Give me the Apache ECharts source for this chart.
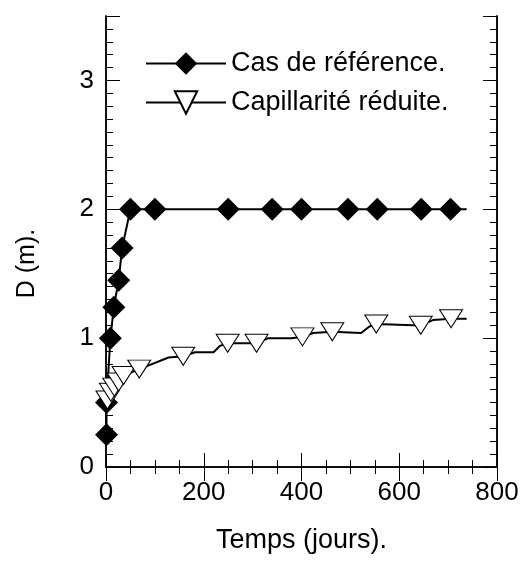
<!DOCTYPE html>
<html>
<head>
<meta charset="utf-8">
<script src="https://cdn.jsdelivr.net/npm/echarts@6/dist/echarts.min.js"></script>
<style>
html,body{margin:0;padding:0;background:#fff;}
#c{width:523px;height:562px;}
</style>
</head>
<body>
<div id="c"></div>
<script>
// ---- data ----
const seriesNames = ['Cas de référence.', 'Capillarité réduite.'];
const xTicks = [0, 200, 400, 600, 800];
const yTicks = [0, 1, 2, 3];

const refMarkT = [1, 1, 9, 16, 26, 33, 50, 100, 250, 340, 400, 495, 555, 645, 705];
const refMarkD = [0.25, 0.5, 1.0, 1.24, 1.45, 1.7, 2.0, 2.0, 2.0, 2.0, 2.0, 2.0, 2.0, 2.0, 2.0];
const refLineT = [738];
const refLineD = [2.0];

const capMarkT = [3, 10, 17, 26, 36, 68, 158, 249, 308, 402, 463, 553, 644, 706];
const capMarkD = [0.52, 0.58, 0.62, 0.66, 0.71, 0.76, 0.86, 0.96, 0.96, 1.01, 1.05, 1.11, 1.10, 1.15];
const capLineT = [128, 182, 220, 233, 332, 380, 424, 522, 539, 628, 669, 738];
const capLineD = [0.85, 0.89, 0.89, 0.94, 1.00, 1.00, 1.04, 1.04, 1.09, 1.10, 1.14, 1.15];

function build(markT, markD, lineT, lineD) {
  const pts = [];
  markT.forEach((t, i) => pts.push({ value: [t, markD[i]] , _o: i}));
  lineT.forEach((t, i) => pts.push({ value: [t, lineD[i]], symbol: 'none', _o: 1000 + i }));
  pts.sort((a, b) => a.value[0] - b.value[0] || a._o - b._o);
  return pts.map(p => { const o = { value: p.value }; if (p.symbol) o.symbol = p.symbol; return o; });
}

const FONT = 'Liberation Sans, Arial, Helvetica, sans-serif';
const FS_TICK = 26;
const FS_TEXT = 27;
const FS_YNAME = 25;
const chart = echarts.init(document.getElementById('c'), null, { renderer: 'canvas' });

const grid = { left: 106, right: 26, top: 16, bottom: 95, containLabel: false };
const axLine = { show: true, lineStyle: { color: '#000', width: 1.5 } };

function yAx(pos, interval, len, labels) {
  return {
    type: 'value', position: pos, min: 0, max: 3.5, interval: interval,
    axisLine: axLine,
    axisTick: { show: true, inside: true, length: len, lineStyle: { color: '#000', width: 1 } },
    axisLabel: labels ? {
      show: true, color: '#000', fontSize: FS_TICK, fontFamily: FONT, margin: 12,
      formatter: v => (yTicks.indexOf(Math.round(v * 1000) / 1000) >= 0 ? String(Math.round(v)) : '')
    } : { show: false },
    splitLine: { show: false },
    name: labels ? 'D (m).' : '',
    nameLocation: 'middle', nameGap: 66, nameRotate: 90,
    nameTextStyle: { color: '#000', fontSize: FS_YNAME, fontFamily: FONT, padding: [0, 44, 0, 0] }
  };
}
function xAx(pos, labels) {
  return {
    type: 'value', position: pos, min: xTicks[0], max: xTicks[xTicks.length - 1], interval: 200,
    axisLine: axLine,
    axisTick: { show: true, inside: true, length: 14, lineStyle: { color: '#000', width: 1 } },
    minorTick: { show: true, splitNumber: 4, length: 7, lineStyle: { color: '#000', width: 1 } },
    axisLabel: labels ? { show: true, color: '#000', fontSize: FS_TICK, fontFamily: FONT, margin: 13 } : { show: false },
    splitLine: { show: false }, minorSplitLine: { show: false },
    name: labels ? 'Temps (jours).' : '',
    nameLocation: 'middle', nameGap: 60,
    nameTextStyle: { color: '#000', fontSize: FS_TEXT, fontFamily: FONT }
  };
}

chart.setOption({
  animation: false,
  backgroundColor: '#fff',
  textStyle: { fontFamily: FONT },
  grid: grid,
  legend: {
    show: true, left: 140, top: 45, orient: 'vertical',
    itemWidth: 80, itemHeight: 28, itemGap: 12,
    textStyle: { color: '#000', fontSize: FS_TEXT, fontFamily: FONT },
    data: seriesNames
  },
  xAxis: [xAx('bottom', true), xAx('top', false)],
  yAxis: [
    yAx('left', 0.1, 7, true), yAx('left', 1, 14, false),
    yAx('right', 0.1, 7, false), yAx('right', 1, 14, false)
  ],
  series: [
    {
      name: seriesNames[0], type: 'line', xAxisIndex: 0, yAxisIndex: 0, clip: false,
      data: build(refMarkT, refMarkD, refLineT, refLineD),
      symbol: 'diamond', symbolSize: 23, showAllSymbol: true,
      itemStyle: { color: '#000', borderColor: '#000', borderWidth: 0 },
      lineStyle: { color: '#000', width: 2 }
    },
    {
      name: seriesNames[1], type: 'line', xAxisIndex: 0, yAxisIndex: 0, clip: false,
      data: build(capMarkT, capMarkD, capLineT, capLineD),
      symbol: 'triangle', symbolRotate: 180, symbolSize: [23, 18], showAllSymbol: true,
      itemStyle: { color: '#fff', borderColor: '#000', borderWidth: 1 },
      lineStyle: { color: '#000', width: 2 }
    }
  ]
});
</script>
</body>
</html>
